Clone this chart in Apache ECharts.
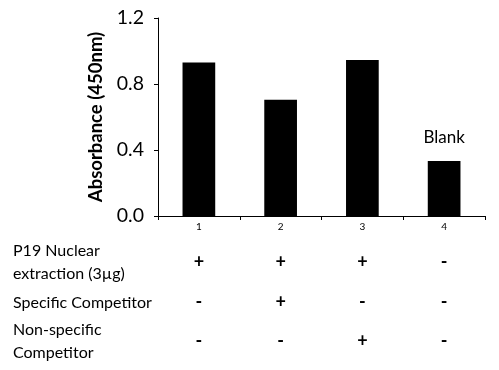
<!DOCTYPE html>
<html><head><meta charset="utf-8">
<script src="https://cdn.jsdelivr.net/npm/echarts@6/dist/echarts.min.js"></script>
<style>html,body{margin:0;padding:0;background:#fff}#c{width:499px;height:370px}</style>
</head><body><div id="c"></div>
<script>
const categories = ['1','2','3','4'];
const values = [0.93, 0.705, 0.945, 0.333];
const barLabels = ['', '', '', 'Blank'];
const rowNames = [['P19 Nuclear','extraction (3µg)'], ['Specific Competitor'], ['Non-specific','Competitor']];
const rowSigns = [['+','+','+','-'], ['-','+','-','-'], ['-','-','+','-']];

const FONT = 'Lato, sans-serif';
const chart = echarts.init(document.getElementById('c'));
const option = {
  animation: false,
  backgroundColor: '#fff',
  grid: {left: 158, right: 14, top: 18, bottom: 154, containLabel: false},
  xAxis: {
    type: 'category', data: categories,
    axisLine: {lineStyle: {color: '#000', width: 1}},
    axisTick: {show: true, length: 4, lineStyle: {color: '#000'}},
    axisLabel: {color: '#000', fontSize: 10, fontFamily: FONT, margin: 6}
  },
  yAxis: {
    type: 'value', min: 0, max: 1.2, interval: 0.4,
    name: 'Absorbance (450nm)', nameLocation: 'middle', nameGap: 50,
    nameTextStyle: {color: '#000', fontSize: 18.5, fontWeight: 'bold', fontFamily: FONT},
    axisLine: {show: true, lineStyle: {color: '#000', width: 1}},
    axisTick: {show: true, length: 4, lineStyle: {color: '#000'}},
    splitLine: {show: false},
    axisLabel: {color: '#000', fontSize: 19.5, fontFamily: FONT, margin: 14, formatter: v => v.toFixed(1)}
  },
  series: [{
    type: 'bar', barWidth: '40%',
    itemStyle: {color: '#000'},
    data: values.map((v, i) => ({value: v, label: {show: !!barLabels[i], position: 'top', distance: 15, formatter: barLabels[i], color: '#000', fontSize: 17, fontFamily: FONT}}))
  }]
};
chart.setOption(option);

const rowY = [262, 302, 341];
const els = [];
rowNames.forEach((lines, r) => {
  const n = lines.length;
  lines.forEach((t, k) => {
    els.push({type: 'text', left: 13, top: rowY[r] - n * 11.5 + k * 23 + 4, style: {text: t, fontSize: 16, fontFamily: FONT, fill: '#000'}});
  });
  rowSigns[r].forEach((s, i) => {
    const x = chart.convertToPixel({xAxisIndex: 0}, categories[i]);
    els.push({type: 'text', x: x, y: rowY[r], style: {text: s, fontSize: 18, fontWeight: 'bold', fontFamily: FONT, fill: '#000', align: 'center', verticalAlign: 'middle'}});
  });
});
chart.setOption({graphic: els});
</script></body></html>
